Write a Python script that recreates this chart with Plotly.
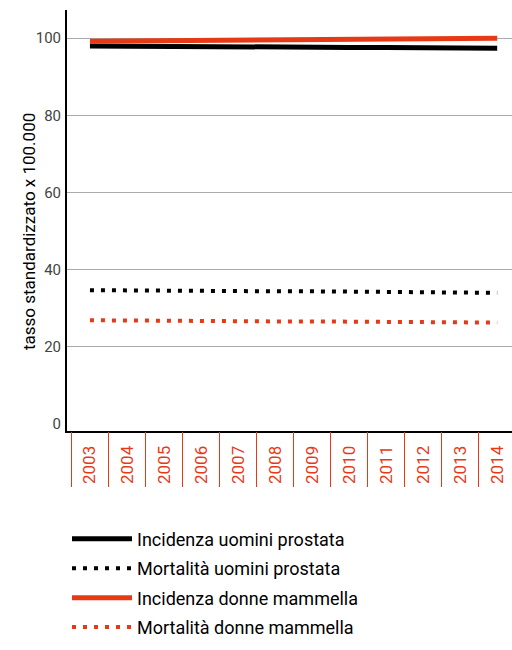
import plotly.graph_objects as go

years = [2003, 2004, 2005, 2006, 2007, 2008, 2009, 2010, 2011, 2012, 2013, 2014]
year_labels = [str(y) for y in years]

inc_uomini = [98.0, 97.9, 97.9, 97.8, 97.8, 97.7, 97.7, 97.6, 97.6, 97.5, 97.5, 97.4]
mort_uomini = [34.7, 34.6, 34.6, 34.5, 34.5, 34.4, 34.4, 34.3, 34.2, 34.2, 34.1, 34.0]
inc_donne = [99.2, 99.3, 99.4, 99.4, 99.5, 99.6, 99.6, 99.7, 99.8, 99.8, 99.9, 100.0]
mort_donne = [26.9, 26.8, 26.8, 26.7, 26.7, 26.6, 26.6, 26.5, 26.5, 26.4, 26.4, 26.3]

RED = "#e63a17"
FONT = "Roboto"

fig = go.Figure()

fig.add_trace(go.Scatter(x=years, y=inc_uomini, mode="lines", name="Incidenza uomini prostata",
                         line=dict(color="black", width=5), legendgroup="a"))
fig.add_trace(go.Scatter(x=years, y=mort_uomini, mode="lines", name="Mortalità uomini prostata",
                         line=dict(color="black", width=4, dash="4px,7px"), legendgroup="b"))
fig.add_trace(go.Scatter(x=years, y=inc_donne, mode="lines", name="Incidenza donne mammella",
                         line=dict(color=RED, width=5), legendgroup="c"))
fig.add_trace(go.Scatter(x=years, y=mort_donne, mode="lines", name="Mortalità donne mammella",
                         line=dict(color=RED, width=4, dash="4px,7px"), legendgroup="d"))
# invisible trace so the tick-separator axis gets drawn
fig.add_trace(go.Scatter(x=years, y=[None] * len(years), xaxis="x2", showlegend=False,
                         hoverinfo="skip"))

xr = [2002.38, 2014.4]

fig.update_layout(
    width=512, height=650,
    margin=dict(l=67, r=0, t=10, b=219, autoexpand=False),
    plot_bgcolor="white", paper_bgcolor="white",
    font=dict(family=FONT, size=14, color="#333"),
    xaxis=dict(range=xr, tickvals=years, ticktext=year_labels, tickangle=-90,
               tickfont=dict(color=RED, size=17), showgrid=False, ticks="",
               showline=True, linecolor="black", linewidth=2, ticklabelstandoff=6,
               automargin=False),
    xaxis2=dict(range=xr, overlaying="x", anchor="y", side="bottom", tick0=2002.5, dtick=1,
                ticks="outside", ticklen=55, tickcolor=RED, tickwidth=1,
                showticklabels=False, showgrid=False, showline=False, automargin=False),
    yaxis=dict(range=[-1.8, 107.3], tickvals=[0, 20, 40, 60, 80, 100],
               showgrid=True, gridcolor="#aaaaaa", gridwidth=1,
               zeroline=True, zerolinecolor="rgba(0,0,0,0)",
               showline=True, linecolor="black", linewidth=2,
               tickfont=dict(color="#444", size=15), ticklabelstandoff=1,
               automargin=False),
    annotations=[dict(text="tasso standardizzato x 100.000", textangle=-90,
                      xref="paper", yref="paper", x=-0.112, y=0.473, showarrow=False,
                      font=dict(color="black", size=17))],
    legend=dict(x=0, xanchor="left", y=-0.213, yanchor="top", traceorder="grouped",
                tracegroupgap=3, font=dict(color="black", size=18), itemwidth=60),
    showlegend=True,
)

fig.write_html("out.html", config={"displayModeBar": False},
               post_script="document.body.style.margin='0';document.body.style.overflow='hidden';")
